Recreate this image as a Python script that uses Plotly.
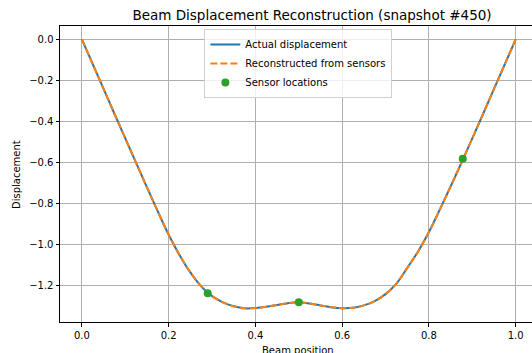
import plotly.graph_objects as go

# Data
beam_x = [0.0, 0.025, 0.05, 0.075, 0.1, 0.125, 0.15, 0.175, 0.2, 0.225, 0.25, 0.275,
          0.3, 0.325, 0.35, 0.375, 0.4, 0.425, 0.45, 0.475, 0.5, 0.525, 0.55, 0.575,
          0.6, 0.625, 0.65, 0.675, 0.7, 0.725, 0.75, 0.775, 0.8, 0.825, 0.85, 0.875,
          0.9, 0.925, 0.95, 0.975, 1.0]
actual_disp = [0.0, -0.121, -0.242, -0.363, -0.483, -0.603, -0.722, -0.840, -0.953, -1.052,
               -1.137, -1.205, -1.253, -1.283, -1.302, -1.312, -1.311, -1.305, -1.296, -1.287,
               -1.283, -1.289, -1.298, -1.307, -1.312, -1.310, -1.298, -1.277, -1.243, -1.192,
               -1.115, -1.035, -0.940, -0.831, -0.718, -0.602, -0.483, -0.363, -0.242, -0.121, 0.0]
recon_disp = [0.0, -0.121, -0.242, -0.363, -0.483, -0.603, -0.722, -0.840, -0.953, -1.052,
              -1.137, -1.205, -1.253, -1.283, -1.302, -1.312, -1.311, -1.305, -1.296, -1.287,
              -1.283, -1.289, -1.298, -1.307, -1.312, -1.310, -1.298, -1.277, -1.243, -1.192,
              -1.115, -1.035, -0.940, -0.831, -0.718, -0.602, -0.483, -0.363, -0.242, -0.121, 0.0]
sensor_x = [0.29, 0.5, 0.878]
sensor_y = [-1.239, -1.283, -0.582]

x_ticks = [0.0, 0.2, 0.4, 0.6, 0.8, 1.0]
x_ticklabels = ["0.0", "0.2", "0.4", "0.6", "0.8", "1.0"]
y_ticks = [0.0, -0.2, -0.4, -0.6, -0.8, -1.0, -1.2]
y_ticklabels = ["0.0", "\u22120.2", "\u22120.4", "\u22120.6", "\u22120.8", "\u22121.0", "\u22121.2"]

FONT = "DejaVu Sans, Liberation Sans, sans-serif"

fig = go.Figure()
fig.add_trace(go.Scatter(x=beam_x, y=actual_disp, mode="lines", name="Actual displacement",
                         line=dict(color="#1f77b4", width=2, shape="spline")))
fig.add_trace(go.Scatter(x=beam_x, y=recon_disp, mode="lines", name="Reconstructed from sensors",
                         line=dict(color="#ff7f0e", width=2, dash="7px,3px", shape="spline")))
fig.add_trace(go.Scatter(x=sensor_x, y=sensor_y, mode="markers", name="Sensor locations",
                         marker=dict(color="#2ca02c", size=8)))

fig.update_layout(
    width=532, height=353,
    margin=dict(l=60, r=0, t=26, b=31, autoexpand=False),
    paper_bgcolor="white", plot_bgcolor="white",
    font=dict(family=FONT, size=10, color="black"),
    title=dict(text="Beam Displacement Reconstruction (snapshot #450)",
               x=312 / 532, xanchor="center", xref="container",
               y=1 - 15 / 353, yanchor="middle", yref="container",
               font=dict(family=FONT, size=13.5, color="black")),
    showlegend=True,
    legend=dict(x=0.505, xanchor="center", y=(322 - 29) / 296, yanchor="top",
                bgcolor="rgba(255,255,255,0.8)", bordercolor="#d0d0d0", borderwidth=1,
                font=dict(family=FONT, size=10, color="black"),
                itemwidth=30, tracegroupgap=0),
    xaxis=dict(range=[-0.0505, 1.0376], tickvals=x_ticks, ticktext=x_ticklabels,
               showgrid=True, gridcolor="#b0b0b0", gridwidth=0.8,
               showline=True, linecolor="black", linewidth=1, mirror=True,
               ticks="outside", ticklen=3.5, tickcolor="black", zeroline=False,
               automargin=False),
    yaxis=dict(range=[-1.379, 0.065], tickvals=y_ticks, ticktext=y_ticklabels,
               showgrid=True, gridcolor="#b0b0b0", gridwidth=0.8,
               showline=True, linecolor="black", linewidth=1,
               ticks="outside", ticklen=3.5, tickcolor="black", zeroline=False,
               automargin=False),
    annotations=[
        dict(text="Beam position", xref="paper", yref="paper",
             x=(298 - 60) / 472, y=-(350 - 322) / 296, xanchor="center", yanchor="middle",
             showarrow=False, font=dict(family=FONT, size=10, color="black")),
        dict(text="Displacement", xref="paper", yref="paper",
             x=(16 - 60) / 472, y=(322 - 175) / 296, xanchor="center", yanchor="middle",
             textangle=-90, showarrow=False, font=dict(family=FONT, size=10, color="black")),
    ],
)

fig.write_html("out.html")
